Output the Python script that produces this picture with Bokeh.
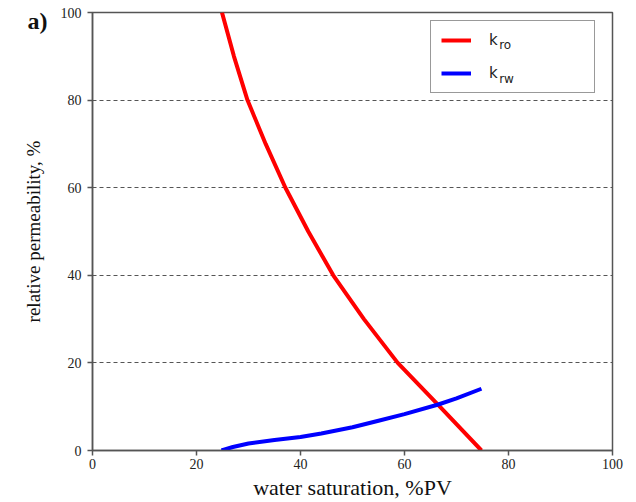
from bokeh.plotting import figure
from bokeh.models import Range1d, Legend, LegendItem, Label, FixedTicker, LinearAxis
from bokeh.embed import file_html
from bokeh.resources import INLINE

# Data
sw_oil = [24.9, 27.2, 29.8, 33.3, 37.1, 41.5, 46.3, 52.2, 58.7, 66.8, 74.8]
kro = [100, 90, 80, 70, 60, 50, 40, 30, 20, 10, 0]

sw_water = [24.8, 27, 30, 35, 40, 44, 50, 55, 60, 66.5, 70, 74.8]
krw = [0, 0.8, 1.6, 2.4, 3.1, 3.9, 5.3, 6.8, 8.3, 10.5, 11.9, 14.1]

x_ticks = [0, 20, 40, 60, 80, 100]
y_ticks = [0, 20, 40, 60, 80, 100]

SERIF = "Liberation Serif"

p = figure(width=636, height=502, output_backend="svg", toolbar_location=None,
           x_range=Range1d(0, 100), y_range=Range1d(0, 100),
           min_border_left=92, min_border_right=24, min_border_top=12, min_border_bottom=49)

p.background_fill_color = "white"
p.border_fill_color = "white"
p.outline_line_color = "#555555"
p.outline_line_width = 1.5

for ax in (p.xaxis[0], p.yaxis[0]):
    ax.axis_line_color = "#555555"
    ax.axis_line_width = 1.5
    ax.major_tick_line_color = "#555555"
    ax.major_tick_line_width = 1.5
    ax.major_tick_out = 5
    ax.major_tick_in = 0
    ax.minor_tick_line_color = None
    ax.major_label_text_font = SERIF
    ax.major_label_text_font_size = "14px"
    ax.major_label_text_color = "#222222"
    ax.axis_label_text_font = SERIF
    ax.axis_label_text_font_style = "normal"
    ax.axis_label_text_color = "#111111"

p.xaxis.ticker = FixedTicker(ticks=x_ticks)
p.yaxis.ticker = FixedTicker(ticks=y_ticks)
p.xaxis.axis_label = "water saturation, %PV"
p.xaxis.axis_label_text_font_size = "22px"
p.xaxis.axis_label_standoff = 3
p.xaxis.major_label_standoff = 3
p.yaxis.axis_label = "relative permeability, %"
p.yaxis.axis_label_text_font_size = "19px"
p.yaxis.axis_label_standoff = 14
p.yaxis.major_label_standoff = 6

p.xgrid.grid_line_color = None
p.ygrid.grid_line_color = "#555555"
p.ygrid.grid_line_dash = "4 3"
p.ygrid.grid_line_width = 1

# panel tag "a)" drawn as the single label of an extra, line-less left axis
tag_axis = LinearAxis(ticker=FixedTicker(ticks=[98]),
                      major_label_overrides={98: "a)"},
                      axis_line_color=None, major_tick_line_color=None,
                      minor_tick_line_color=None, major_tick_out=0, major_tick_in=0,
                      major_label_standoff=-28,
                      major_label_text_font=SERIF, major_label_text_font_size="24px",
                      major_label_text_font_style="bold", major_label_text_color="#111111")
p.add_layout(tag_axis, "left")

r_oil = p.line(sw_oil, kro, line_color="#ff0000", line_width=4)
r_wat = p.line(sw_water, krw, line_color="#0000ff", line_width=4)

legend = Legend(items=[LegendItem(label="k", renderers=[r_oil]),
                       LegendItem(label="k", renderers=[r_wat])],
                location=(338, 357), orientation="vertical",
                padding=10, spacing=15, margin=0,
                glyph_width=30, glyph_height=10, label_height=10,
                label_width=95, label_standoff=18,
                label_text_font="DejaVu Sans", label_text_font_size="15px",
                label_text_color="#222222",
                border_line_color="#333333", border_line_width=1.5,
                background_fill_alpha=0)
p.add_layout(legend)

sub_ro = Label(x=78.2, y=92.5, text="ro", text_baseline="alphabetic",
               text_font="DejaVu Sans", text_font_size="12px", text_color="#222222")
sub_rw = Label(x=78.2, y=84.8, text="rw", text_baseline="alphabetic",
               text_font="DejaVu Sans", text_font_size="12px", text_color="#222222")
p.add_layout(sub_ro)
p.add_layout(sub_rw)

open("out.html", "w").write(file_html(p, INLINE))
